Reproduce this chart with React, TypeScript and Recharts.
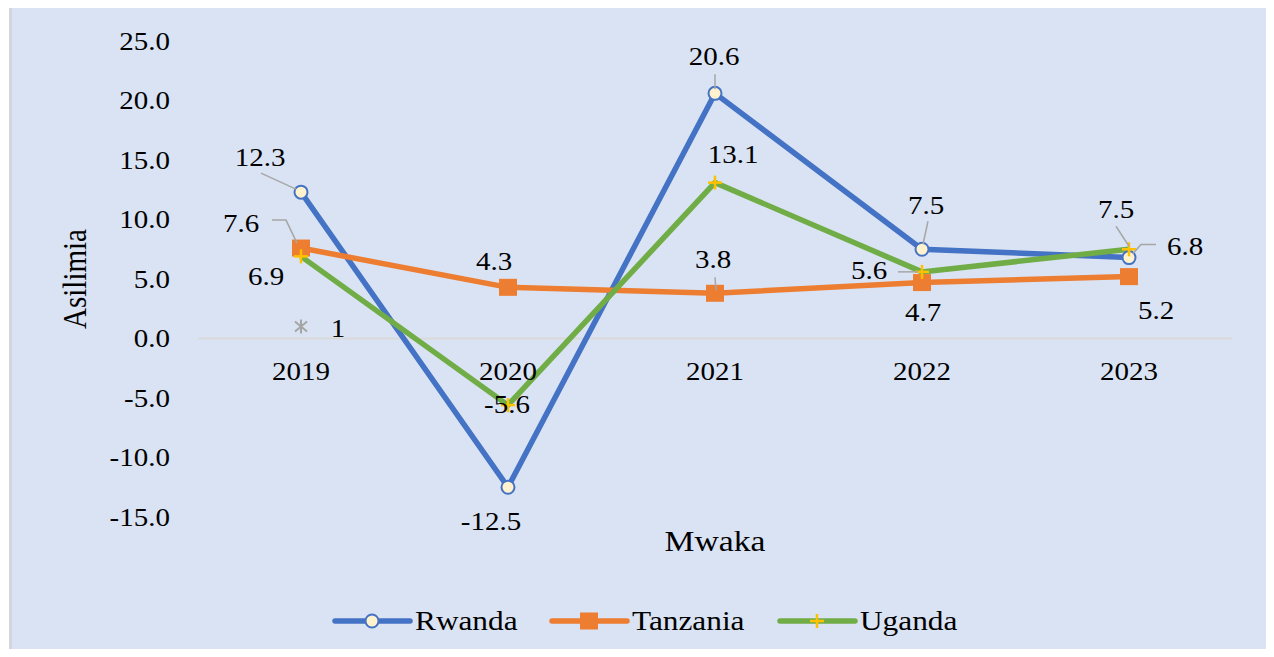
import React from 'react';
import { LineChart, Line, XAxis, YAxis, ReferenceLine, LabelList, Legend } from 'recharts';

// ---------- data ----------
const years = ['2019', '2020', '2021', '2022', '2023'];
const rwanda = [12.3, -12.5, 20.6, 7.5, 6.8];
const tanzania = [7.6, 4.3, 3.8, 4.7, 5.2];
const uganda = [6.9, -5.6, 13.1, 5.6, 7.5];
const stray = [1, null, null, null, null];
const yTicks = [-15, -10, -5, 0, 5, 10, 15, 20, 25];
const seriesNames = ['Rwanda', 'Tanzania', 'Uganda'];

const data = years.map((y, i) => ({
  year: y,
  rwanda: rwanda[i],
  tanzania: tanzania[i],
  uganda: uganda[i],
  stray: stray[i],
}));

// ---------- style ----------
const SX = 1.16;
const FONT = '"Liberation Serif", "Times New Roman", serif';
const BLUE = '#4472c4';
const ORANGE = '#ed7d31';
const GREEN = '#70ad47';
const YELLOW = '#ffc000';
const CREAM = '#fff2cc';
const LEADER = '#a6a6a6';
const BG = '#dae3f3';

type Off = [number, number];
type LabelCfg = { offsets: Off[]; leaders: (Off[] | null)[] };

const rwandaLabels: LabelCfg = {
  offsets: [[-41, -35], [-17, 34], [-1, -37], [4, -44], [56, -11]],
  leaders: [[[-40, -19], [-5, -3]], null, [[0, -19], [0, -4]], [[6, -28], [1, -5]], [[27, -13], [12, -13], [4, -4]]],
};
const tanzaniaLabels: LabelCfg = {
  offsets: [[-60, -25], [-14, -26], [-2, -34], [1, 30], [27, 34]],
  leaders: [[[-29, -28], [-15, -28], [-4, -5]], null, [[0, -16], [1, -3]], null, null],
};
const ugandaLabels: LabelCfg = {
  offsets: [[-35, 20], [-1, -1], [18, -28], [-53, -1], [-13, -40]],
  leaders: [null, null, null, [[-24, 0], [-4, 0]], [[-13, -23], [0, -3]]],
};
const strayLabels: LabelCfg = { offsets: [[37, 2], [0, 0], [0, 0], [0, 0], [0, 0]], leaders: [null, null, null, null, null] };

function SText({ x, y, size = 25, anchor = 'middle', rotate, children }: any) {
  return (
    <g transform={`translate(${x},${y}) scale(${SX},1)${rotate ? ` rotate(${rotate})` : ''}`}>
      <text x={0} y={0} dy="0.34em" textAnchor={anchor} fontFamily={FONT} fontSize={size} fill="#000">
        {children}
      </text>
    </g>
  );
}

const makeLabel = (cfg: LabelCfg) => (props: any) => {
  const { value, index } = props;
  const px = props.x ?? props.viewBox?.x;
  const py = props.y ?? props.viewBox?.y;
  if (value === null || value === undefined || px == null || py == null) return null;
  const [dx, dy] = cfg.offsets[index];
  const lead = cfg.leaders[index];
  return (
    <g>
      {lead && (
        <polyline
          points={lead.map(([a, b]) => `${px + a},${py + b}`).join(' ')}
          fill="none"
          stroke={LEADER}
          strokeWidth={1.5}
        />
      )}
      <SText x={px + dx} y={py + dy}>{String(value)}</SText>
    </g>
  );
};

const CircleDot = (p: any) =>
  p.cx == null || p.cy == null ? <g key={p.key} /> : (
    <circle key={p.key} cx={p.cx} cy={p.cy} r={6.5} fill={CREAM} stroke={BLUE} strokeWidth={2} />
  );
const SquareDot = (p: any) =>
  p.cx == null || p.cy == null ? <g key={p.key} /> : (
    <rect key={p.key} x={p.cx - 9} y={p.cy - 8.5} width={18} height={17} fill={ORANGE} />
  );
const PlusDot = (p: any) =>
  p.cx == null || p.cy == null ? <g key={p.key} /> : (
    <g key={p.key} stroke={YELLOW} strokeWidth={2.5}>
      <line x1={p.cx - 7} y1={p.cy} x2={p.cx + 7} y2={p.cy} />
      <line x1={p.cx} y1={p.cy - 7} x2={p.cx} y2={p.cy + 7} />
    </g>
  );
const StarDot = (p: any) =>
  p.cx == null || p.cy == null || p.value == null ? <g key={p.key} /> : (
    <g key={p.key} stroke="#a5a5a5" strokeWidth={2}>
      <line x1={p.cx} y1={p.cy - 7} x2={p.cx} y2={p.cy + 7} />
      <line x1={p.cx - 6} y1={p.cy - 5} x2={p.cx + 6} y2={p.cy + 5} />
      <line x1={p.cx - 6} y1={p.cy + 5} x2={p.cx + 6} y2={p.cy - 5} />
    </g>
  );

const YTick = (p: any) => (
  <SText x={p.x} y={p.y} anchor="end">{Number(p.payload.value).toFixed(1)}</SText>
);
const XTick = (p: any) => (
  <SText x={p.x} y={p.y - 146}>{p.payload.value}</SText>
);

const YTitle = (p: any) => {
  const vb = p.viewBox;
  return <SText x={vb.x + 65} y={vb.y + vb.height / 2} size={29} rotate={-90}>Asilimia</SText>;
};
const XTitle = (p: any) => {
  const vb = p.viewBox;
  return <SText x={vb.x + vb.width / 2} y={vb.y + 24} size={29}>Mwaka</SText>;
};

const legendX = [325, 542, 770];
const legendColors = [BLUE, ORANGE, GREEN];

const LegendContent = () => (
  <svg width={1260} height={40}>
    {seriesNames.map((name, i) => {
      const x0 = legendX[i];
      const cy = 20;
      const mx = x0 + 37;
      return (
        <g key={name}>
          <line x1={x0} y1={cy} x2={x0 + 75} y2={cy} stroke={legendColors[i]} strokeWidth={5.5} strokeLinecap="round" />
          {i === 0 && <circle cx={mx} cy={cy} r={6.5} fill={CREAM} stroke={BLUE} strokeWidth={2} />}
          {i === 1 && <rect x={mx - 9} y={cy - 8.5} width={18} height={17} fill={ORANGE} />}
          {i === 2 && (
            <g stroke={YELLOW} strokeWidth={2.5}>
              <line x1={mx - 7} y1={cy} x2={mx + 7} y2={cy} />
              <line x1={mx} y1={cy - 7} x2={mx} y2={cy + 7} />
            </g>
          )}
          <SText x={x0 + 80} y={cy} size={27} anchor="start">{name}</SText>
        </g>
      );
    })}
  </svg>
);

export default function App() {
  return (
    <div style={{ position: 'relative', width: 1274, height: 657, margin: -8, background: '#fff', overflow: 'hidden' }}>
      <div
        style={{
          position: 'absolute', left: 9, top: 5, width: 1263, height: 660, boxSizing: 'border-box',
          background: BG, border: '3px solid #d4d6da',
        }}
      />
      <div style={{ position: 'absolute', left: 10, top: 6 }}>
        <LineChart width={1260} height={651} data={data} margin={{ top: 35, right: 38, bottom: 110, left: 0 }}>
          <XAxis
            dataKey="year"
            axisLine={false}
            tickLine={false}
            tickSize={0}
            tickMargin={0}
            height={30}
            padding={{ left: 103, right: 103 }}
            tick={XTick}
            label={XTitle}
          />
          <YAxis
            width={188}
            domain={[-15, 25]}
            ticks={yTicks}
            axisLine={false}
            tickLine={false}
            tickSize={0}
            tickMargin={28}
            tick={YTick}
            label={YTitle}
          />
          <ReferenceLine y={0} stroke="#d9d9d9" strokeWidth={2} />
          <Legend
            layout="horizontal"
            verticalAlign="middle"
            align="center"
            content={LegendContent}
            wrapperStyle={{ left: 0, top: 595, width: 1260, height: 40 }}
          />
          <Line dataKey="rwanda" name="Rwanda" stroke={BLUE} strokeWidth={5.5} dot={CircleDot} activeDot={false} isAnimationActive={false}>
            <LabelList dataKey="rwanda" content={makeLabel(rwandaLabels)} />
          </Line>
          <Line dataKey="tanzania" name="Tanzania" stroke={ORANGE} strokeWidth={5.5} dot={SquareDot} activeDot={false} isAnimationActive={false}>
            <LabelList dataKey="tanzania" content={makeLabel(tanzaniaLabels)} />
          </Line>
          <Line dataKey="uganda" name="Uganda" stroke={GREEN} strokeWidth={5.5} dot={PlusDot} activeDot={false} isAnimationActive={false}>
            <LabelList dataKey="uganda" content={makeLabel(ugandaLabels)} />
          </Line>
          <Line dataKey="stray" name="1" stroke="none" legendType="none" dot={StarDot} activeDot={false} isAnimationActive={false}>
            <LabelList dataKey="stray" content={makeLabel(strayLabels)} />
          </Line>
        </LineChart>
      </div>
    </div>
  );
}
